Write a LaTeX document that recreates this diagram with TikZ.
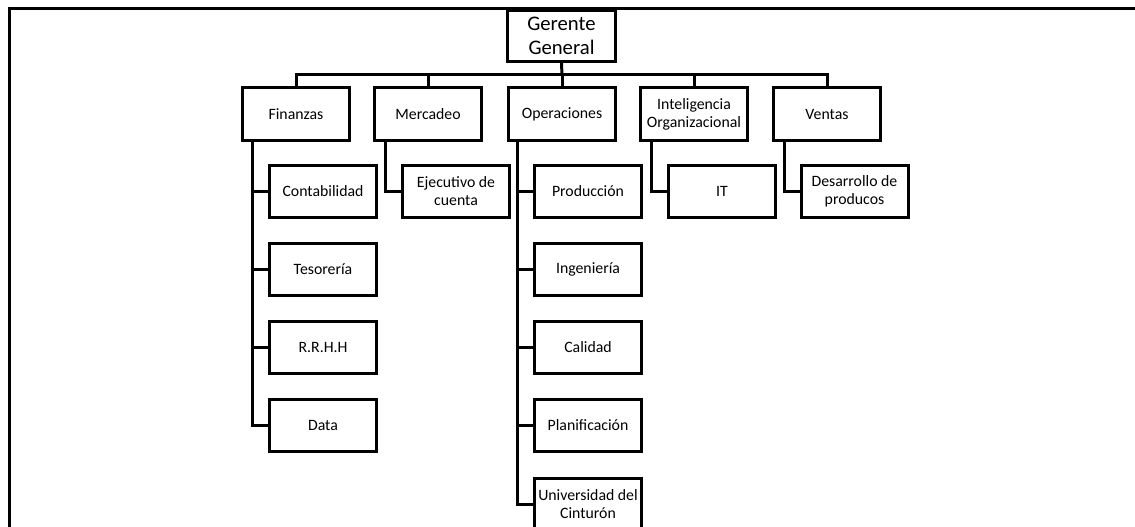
\documentclass[tikz,border=0pt]{standalone}
\usepackage{fontspec}
\setmainfont{Carlito}
\begin{document}
\begin{tikzpicture}[x=1pt,y=-1pt,
  box/.style={draw=black,line width=3pt,minimum width=107pt,minimum height=52pt,inner sep=1pt,align=center,font=\fontsize{15.8}{18}\selectfont},
  topbox/.style={box,minimum width=108pt,minimum height=51pt,font=\fontsize{20.7}{24.5}\selectfont},
  conn/.style={line width=3pt,line join=miter}]
\clip (0,0) rectangle (1135,527);
\fill[white] (0,0) rectangle (1135,527);
\draw[line width=3.6pt,line join=miter] (1145,8.7) -- (9.5,8.7) -- (9.5,540);
% top
\node[topbox] (gg) at (561.5,36) {Gerente\\General};
\coordinate (bus) at (562,75);
% level 1
\node[box,minimum height=53pt] (fin) at (296,114) {Finanzas};
\node[box,minimum height=53pt] (mer) at (428,114) {Mercadeo};
\node[box,minimum height=53pt] (ope) at (562,114) {Operaciones};
\node[box,minimum height=53pt] (int) at (694,114) {Inteligencia\\Organizacional};
\node[box,minimum height=53pt] (ven) at (827,114) {Ventas};
% children
\node[box] (con) at (323,191.5) {Contabilidad};
\node[box] (tes) at (323,269.5) {Tesorería};
\node[box] (rrh) at (323,347) {R.R.H.H};
\node[box] (dat) at (323,425.5) {Data};
\node[box] (eje) at (456,191.5) {Ejecutivo de\\cuenta};
\node[box] (pro) at (588,191.5) {Producción};
\node[box] (ing) at (588,269.5) {Ingeniería};
\node[box] (cal) at (588,347) {Calidad};
\node[box] (pla) at (588,425.5) {Planificación};
\node[box] (uni) at (588,504) {Universidad del\\Cinturón};
\node[box] (it) at (722,191.5) {IT};
\node[box] (des) at (854.5,191.5) {Desarrollo de\\producos};
% connectors top
\draw[conn] (gg.south) -- (bus);
\draw[conn] (fin.north) |- (bus);
\draw[conn] (ven.north) |- (bus);
\draw[conn] (mer.north) -- (mer.north |- bus);
\draw[conn] (ope.north) -- (ope.north |- bus);
\draw[conn] (int.north) -- (int.north |- bus);
% connectors children
\foreach \c in {con,tes,rrh,dat} \draw[conn] ([xshift=11pt]fin.south west) |- (\c.west);
\draw[conn] ([xshift=12pt]mer.south west) |- (eje.west);
\foreach \c in {pro,ing,cal,pla,uni} \draw[conn] ([xshift=10.5pt]ope.south west) |- (\c.west);
\draw[conn] ([xshift=12pt]int.south west) |- (it.west);
\draw[conn] ([xshift=12pt]ven.south west) |- (des.west);
\end{tikzpicture}
\end{document}
